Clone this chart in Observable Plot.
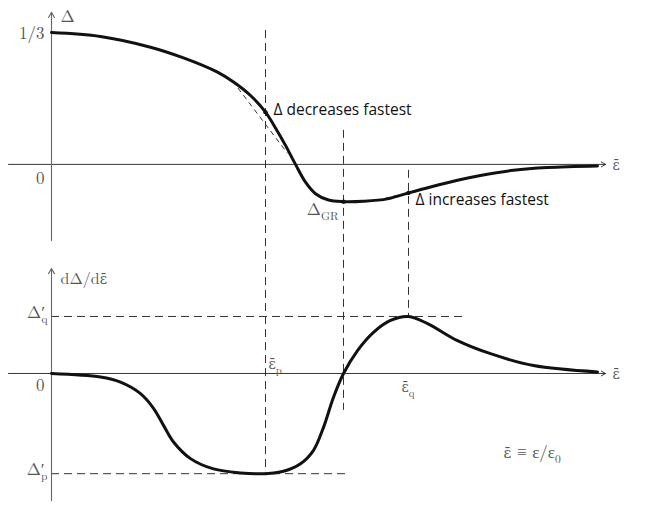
<!DOCTYPE html>
<html><head><meta charset="utf-8">
<script src="https://cdn.jsdelivr.net/npm/d3@7"></script>
<script src="https://cdn.jsdelivr.net/npm/@observablehq/plot@0.6"></script>
<style>body{margin:0;background:#fff} svg{display:block}</style>
</head><body><div id="chart"></div>
<script>
// ---- data (ε̄ in arbitrary units) ----
const deltaEps = [0, 0.49, 0.99, 1.32, 1.66, 1.82, 1.99, 2.14, 2.24, 2.34, 2.44, 2.54, 2.64, 2.77, 2.92, 3.12, 3.36, 3.57, 3.79, 4.06, 4.29, 4.62, 4.96, 5.46];
const deltaVal = [0.333, 0.323, 0.296, 0.269, 0.233, 0.208, 0.174, 0.132, 0.092, 0.048, 0.000, -0.045, -0.074, -0.090, -0.094, -0.093, -0.087, -0.072, -0.057, -0.040, -0.028, -0.015, -0.008, -0.004];
const derivEps = [0, 0.49, 0.69, 0.89, 1.02, 1.12, 1.22, 1.39, 1.62, 1.89, 2.14, 2.32, 2.49, 2.62, 2.72, 2.82, 2.92, 3.06, 3.22, 3.39, 3.57, 3.76, 4.06, 4.39, 4.82, 5.46];
const derivVal = [0, -0.009, -0.022, -0.051, -0.088, -0.131, -0.173, -0.215, -0.241, -0.251, -0.253, -0.247, -0.228, -0.194, -0.136, -0.060, 0, 0.058, 0.104, 0.134, 0.144, 0.126, 0.083, 0.050, 0.020, 0.004];
// special points: ε̄_p, ε̄_GR, ε̄_q
const specialEps = [2.14, 2.92, 3.57];
const specialDelta = [0.132, -0.094, -0.072];
const vlineTopDelta = [0.338, 0.086, -0.015];   // upper end of guide lines (Δ panel units)
const vlineLowDeriv = [-0.253, -0.093, 0.144];  // lower end of guide lines (dΔ/dε̄ panel units)
const derivQ = 0.144, derivP = -0.253;
const hlineEndEps = [4.14, 2.99];
// tangents
const tanDecEps = [1.81, 2.36], tanDecDelta = [0.211, 0.028];
const tanIncEps = [3.33, 3.84], tanIncDelta = [-0.086, -0.054];
// axis extents
const xAxisEps = [-0.43, 5.54];
const topAxisDelta = [-0.192, 0.384];
const botAxisDeriv = [-0.321, 0.265];
const defNoteAt = {x: 4.52, y: -0.2};
const panelOffset = 0.528; // the Δ panel sits this far above the derivative panel

const T = panelOffset;
const topCurve = deltaEps.map((e, i) => ({x: e, y: deltaVal[i] + T}));
const botCurve = derivEps.map((e, i) => ({x: e, y: derivVal[i]}));
const vlines = specialEps.map((e, i) => ({x: e, y1: vlineTopDelta[i] + T, y2: vlineLowDeriv[i]}));
const hlines = [{y: derivQ, x2: hlineEndEps[0]}, {y: derivP, x2: hlineEndEps[1]}];
const tangents = [
  {x1: tanDecEps[0], x2: tanDecEps[1], y1: tanDecDelta[0] + T, y2: tanDecDelta[1] + T},
  {x1: tanIncEps[0], x2: tanIncEps[1], y1: tanIncDelta[0] + T, y2: tanIncDelta[1] + T}
];
const dots = specialEps.map((e, i) => ({x: e, y: specialDelta[i] + T}));
const hAxes = [T, 0].map(y => ({x1: xAxisEps[0], x2: xAxisEps[1], y1: y, y2: y}));
const vAxes = [[topAxisDelta[0] + T, topAxisDelta[1] + T], botAxisDeriv].map(([a, b]) => ({x1: 0, x2: 0, y1: a, y2: b}));

const serif = "'Latin Modern Roman','Liberation Serif',serif";
const sans = "'Open Sans','DejaVu Sans',sans-serif";
const grey = "#555";
const eb = "ε\u0304";

function label(x, y, text, o = {}) {
  return Plot.text([{x, y}], {
    x: "x", y: "y", text: () => text,
    fill: grey, fontFamily: serif, fontSize: 17, textAnchor: "start", ...o
  });
}

const chart = Plot.plot({
  width: 654, height: 507,
  marginTop: 0, marginRight: 0, marginBottom: 0, marginLeft: 0,
  x: {domain: [-0.51, 6.03], axis: null},
  y: {domain: [-0.3384, 0.9419], axis: null},
  style: {background: "#fff"},
  marks: [
    Plot.ruleX(vlines, {x: "x", y1: "y1", y2: "y2", stroke: "#333", strokeWidth: 1, strokeDasharray: "8,5"}),
    Plot.ruleY(hlines, {y: "y", x1: 0, x2: "x2", stroke: "#333", strokeWidth: 1, strokeDasharray: "8,5"}),
    Plot.link(tangents, {x1: "x1", y1: "y1", x2: "x2", y2: "y2", stroke: "#333", strokeWidth: 1, strokeDasharray: "5,4"}),
    Plot.arrow(hAxes, {x1: "x1", y1: "y1", x2: "x2", y2: "y2", stroke: "#222", strokeWidth: 0.9, headLength: 8, headAngle: 60}),
    Plot.arrow(vAxes, {x1: "x1", y1: "y1", x2: "x2", y2: "y2", stroke: "#666", strokeWidth: 1.1, headLength: 8, headAngle: 60}),
    Plot.line(topCurve, {x: "x", y: "y", curve: "catmull-rom", stroke: "#111", strokeWidth: 3}),
    Plot.line(botCurve, {x: "x", y: "y", curve: "catmull-rom", stroke: "#111", strokeWidth: 3}),
    Plot.dot(dots, {x: "x", y: "y", r: 2.2, fill: "#111"}),
    // Δ panel labels
    label(0, 1/3 + T, "1/3", {textAnchor: "end", dx: -7, dy: 1}),
    label(0, T, "0", {textAnchor: "end", dx: -7, dy: 14}),
    label(0, topAxisDelta[1] + T, "Δ", {dx: 9, dy: 4}),
    label(xAxisEps[1], T, eb, {dx: 7, dy: 0, fontSize: 16}),
    label(specialEps[1], specialDelta[1] + T, "Δ_GR", {textAnchor: "end", dx: -5, dy: 8}),
    label(specialEps[0], specialDelta[0] + T, "Δ decreases fastest", {dx: 8, dy: -2, fill: "#111", fontFamily: sans, fontSize: 15.5}),
    label(specialEps[2], specialDelta[2] + T, "Δ increases fastest", {dx: 7, dy: 7, fill: "#111", fontFamily: sans, fontSize: 15.5}),
    // derivative panel labels
    label(0, botAxisDeriv[1], "dΔ/d" + eb, {dx: 9, dy: 10, fontSize: 16}),
    label(0, 0, "0", {textAnchor: "end", dx: -7, dy: 12}),
    label(0, derivQ, "Δ′_q", {textAnchor: "end", dx: -4, dy: -4}),
    label(0, derivP, "Δ′_p", {textAnchor: "end", dx: -4, dy: -4}),
    label(xAxisEps[1], 0, eb, {dx: 7, dy: 0, fontSize: 16}),
    label(specialEps[0], 0, eb + "_p", {dx: 3, dy: -10, fontSize: 16}),
    label(specialEps[2], 0, eb + "_q", {dx: -7, dy: 13, fontSize: 16}),
    label(defNoteAt.x, defNoteAt.y, eb + " ≡ ε/ε_0", {dx: 0, dy: 0, fontSize: 17})
  ]
});

// math typesetting: overlined ε (DejaVu Serif positions the combining macron) and trailing subscripts
const NS = "http://www.w3.org/2000/svg";
d3.select(chart).selectAll("text").each(function () {
  const s = this.textContent;
  if (!s.includes("_") && !s.includes("\u0304")) return;
  const [main, sub] = s.split("_");
  this.textContent = "";
  for (const part of main.split(/(ε\u0304)/)) {
    if (!part) continue;
    const ts = document.createElementNS(NS, "tspan");
    ts.textContent = part;
    if (part === eb) { ts.setAttribute("font-family", "'DejaVu Serif'"); ts.setAttribute("font-size", "0.88em"); }
    this.append(ts);
  }
  if (sub) {
    const ts = document.createElementNS(NS, "tspan");
    ts.textContent = sub;
    ts.setAttribute("font-size", "0.68em");
    ts.setAttribute("dy", "0.45em");
    if (main.endsWith("′")) ts.setAttribute("dx", "-0.3em");
    this.append(ts);
  }
});
document.getElementById("chart").append(chart);
</script></body></html>
